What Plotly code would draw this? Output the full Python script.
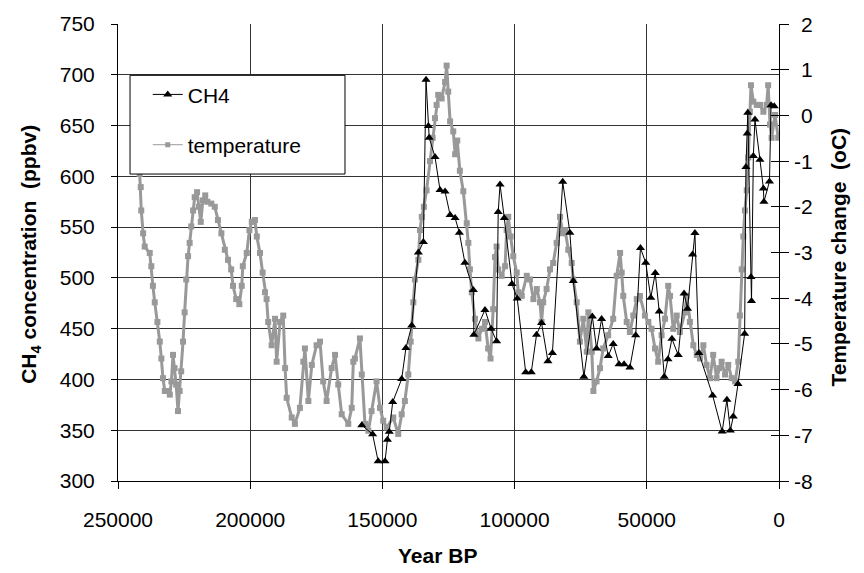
import plotly.graph_objects as go

# ---------------- data ----------------
ch4_year = [157800, 153700, 151600, 149000, 148100, 147400, 146100, 142700, 141100, 138900,
            136400, 134500, 133500, 132600, 132300, 130100, 128200, 126300, 124400, 122500,
            120900, 118800, 115600, 115400, 111200, 108900, 106800, 106200, 105500, 103900,
            101000, 99000, 95800, 93700, 91700, 89800, 87400, 85700, 81800, 79100,
            77800, 73800, 70600, 69000, 67100, 64600, 62700, 60500, 58600, 56400,
            54200, 52400, 50400, 48500, 46800, 45300, 43400, 42000, 40500, 38100,
            35900, 34600, 32700, 31800, 30300, 25100, 21500, 19700, 18400, 17300,
            15500, 13000, 12500, 12000, 11800, 10600, 10400, 9700, 9100, 7200,
            5900, 5700, 3600, 3000, 1800]
ch4_ppbv = [355, 346, 319.5, 319.5, 340.6, 348.6, 377.8, 400.5, 431, 453,
            525, 535.4, 695, 649.6, 638, 619, 586.5, 585, 562, 559,
            544.5, 515, 488, 444, 468.5, 450, 437.7, 565, 592, 559,
            494, 479.7, 407, 407, 444, 455.5, 418, 426, 594.7, 544.5,
            497, 402.7, 462, 430.4, 459.5, 423, 435, 415, 415, 411.8,
            443.5, 529.4, 515, 480.4, 504.7, 466.8, 402.7, 420, 440, 424,
            484.6, 469.7, 523, 544.2, 426, 384.3, 348.7, 380, 349.8, 363.4,
            395.6, 445, 609.2, 642.2, 662.6, 500.8, 477.2, 620, 656, 616.3,
            588, 575, 595, 670, 669]

temp_year = [242300, 241800, 241400, 241200, 240500, 239900, 238000, 237400, 236800, 236100,
             235100, 234200, 233600, 233000, 232300, 231100, 230400, 229800, 229200, 228600,
             228000, 227300, 226700, 226100, 225400, 224800, 224200, 223500, 222900, 222300,
             221600, 221000, 220100, 219400, 218700, 217900, 217000, 216200, 214700, 213400,
             212200, 210900, 209600, 208400, 207200, 206500, 205300, 204100, 203200, 202800,
             201300, 200300, 199400, 198200, 197500, 196300, 195300, 194400, 193800, 193200,
             191900, 190600, 190000, 188700, 187500, 186800, 186200, 184300, 183100, 181200,
             179900, 179300, 178000, 176700, 174900, 173600, 172400, 171100, 169200, 167900,
             166700, 165400, 162900, 161600, 161000, 160400, 158500, 157800, 156600, 155300,
             154100, 152200, 150900, 149700, 148400, 145900, 144000, 142700, 141500, 140200,
             139300, 138300, 137700, 136400, 135800, 135100, 134300, 133300, 132000, 131000,
             130100, 129500, 128900, 127600, 126300, 125700, 125100, 124400, 123200, 122500,
             121700, 120700, 119400, 118100, 117500, 116900, 116200, 115000, 113700, 112400,
             111200, 110000, 109100, 108100, 107400, 106800, 106200, 104900, 103600, 103000,
             102400, 101500, 100500, 99200, 98600, 97300, 95400, 94200, 92900, 91600,
             90400, 89800, 89200, 87900, 86600, 85400, 84100, 82800, 81800, 80900,
             79700, 78400, 77800, 76500, 75300, 74000, 72700, 72100, 70800, 70200,
             69000, 67700, 66500, 64600, 62700, 61400, 60100, 59500, 58900, 57600,
             56400, 55100, 53800, 52600, 50700, 49400, 48200, 46900, 45700, 44400,
             43100, 41900, 41200, 40000, 38700, 37500, 35600, 34900, 33700, 32400,
             31100, 29900, 28600, 27400, 26100, 24900, 23600, 22600, 21700, 20400,
             19200, 17900, 16600, 15400, 14800, 14100, 13500, 12900, 12200, 11600,
             11000, 10600, 9700, 8400, 7200, 5900, 4700, 4100, 3400, 2800,
             1500, 300]
temp_change = [-0.6, -1.28, -1.57, -2.08, -2.58, -2.87, -3.01, -3.30, -3.73, -4.09,
               -4.52, -4.95, -5.32, -5.75, -6.03, -6.03, -6.11, -5.82, -5.24, -5.53,
               -5.89, -6.47, -6.03, -5.60, -4.95, -4.31, -3.59, -3.08, -2.79, -2.43,
               -2.08, -1.79, -1.68, -2.00, -2.33, -1.86, -1.75, -1.89, -1.93, -2.00,
               -2.29, -2.58, -2.94, -3.16, -3.37, -3.73, -4.02, -4.13, -3.73, -3.30,
               -3.01, -2.51, -2.33, -2.29, -2.65, -3.01, -3.44, -3.87, -4.02, -4.52,
               -5.03, -4.45, -5.39, -4.52, -4.38, -5.53, -6.18, -6.61, -6.75, -6.40,
               -5.39, -5.10, -6.25, -5.46, -5.03, -4.95, -5.82, -6.25, -5.53, -5.24,
               -5.89, -6.54, -6.75, -6.40, -5.39, -5.32, -4.88, -5.67, -6.75, -6.90,
               -6.47, -5.82, -6.40, -6.68, -6.83, -6.61, -6.97, -6.54, -6.25, -5.67,
               -4.95, -4.09, -3.59, -3.16, -2.51, -2.22, -2.00, -1.64, -1.00, -0.49,
               -0.06, 0.23, 0.45, 0.37, 0.73, 1.09, 0.52, -0.13, -0.35, -0.85,
               -0.55, -1.21, -1.66, -2.36, -2.79, -3.37, -3.87, -4.45, -4.88, -4.67,
               -4.52, -5.10, -5.32, -4.24, -3.10, -2.87, -3.37, -3.51, -3.30, -2.51,
               -2.22, -2.65, -3.08, -3.44, -3.87, -3.95, -3.51, -3.59, -4.02, -3.80,
               -4.09, -4.52, -4.09, -3.80, -3.37, -3.23, -2.79, -2.22, -2.58, -2.51,
               -2.94, -3.23, -3.59, -4.09, -4.95, -4.45, -5.17, -4.31, -5.17, -6.03,
               -5.82, -5.53, -5.10, -4.81, -4.45, -3.51, -3.01, -3.44, -3.95, -4.52,
               -4.74, -4.38, -4.02, -3.95, -4.38, -4.52, -4.67, -5.10, -5.39, -4.81,
               -4.45, -3.73, -3.95, -4.67, -4.38, -4.74, -4.31, -3.95, -4.52, -5.03,
               -5.24, -5.32, -5.03, -5.46, -5.75, -5.24, -5.75, -5.53, -5.39, -5.67,
               -5.46, -5.75, -5.82, -5.39, -4.38, -3.37, -2.65, -2.08, -1.64, -0.92,
               0.08, 0.66, 0.30, 0.23, 0.23, 0.08, 0.23, 0.66, -0.20, -0.49,
               0.01, -0.49]

x_ticks = [250000, 200000, 150000, 100000, 50000, 0]
ch4_ticks = [300, 350, 400, 450, 500, 550, 600, 650, 700, 750]
temp_ticks = [-8, -7, -6, -5, -4, -3, -2, -1, 0, 1, 2]

assert len(ch4_year) == len(ch4_ppbv)
assert len(temp_year) == len(temp_change)

FONT = "Liberation Sans, Arial, sans-serif"
GRAY = "#999999"

fig = go.Figure()

# temperature on the base (right-hand) axis, drawn underneath
fig.add_trace(go.Scatter(
    x=temp_year, y=temp_change, name="temperature", mode="lines+markers",
    line=dict(color=GRAY, width=3),
    marker=dict(symbol="square", size=6, color=GRAY),
    yaxis="y", showlegend=False))

# CH4 on the overlaying (left-hand) axis, drawn on top
fig.add_trace(go.Scatter(
    x=ch4_year, y=ch4_ppbv, name="CH4", mode="lines+markers",
    line=dict(color="black", width=1),
    marker=dict(symbol="triangle-up", size=8, color="black"),
    yaxis="y2", legendgroup="a", legendrank=1))

# legend-only entry for temperature: thin line with a small square
fig.add_trace(go.Scatter(
    x=[None], y=[None], name="temperature", mode="lines+markers",
    line=dict(color=GRAY, width=1),
    marker=dict(symbol="square", size=5, color=GRAY),
    yaxis="y3", legendgroup="b", legendrank=2, hoverinfo="skip"))

fig.update_layout(
    width=864, height=573,
    margin=dict(l=118, r=85, t=18, b=92),
    paper_bgcolor="white", plot_bgcolor="white",
    font=dict(family=FONT, size=21, color="black"),
    showlegend=True,
    legend=dict(x=0.045, y=0.890, xanchor="left", yanchor="top",
                bgcolor="rgba(0,0,0,0)", borderwidth=0,
                tracegroupgap=20, font=dict(family=FONT, size=21, color="black")),
    xaxis=dict(range=[250000, 0], tickvals=x_ticks, tickformat="d",
               showgrid=True, gridcolor="#333333", gridwidth=1,
               showline=True, linecolor="black", linewidth=1,
               ticks="outside", ticklen=7, tickcolor="black",
               ticklabelstandoff=13, zeroline=False,
               tickfont=dict(size=21)),
    yaxis=dict(range=[-8, 2], tickvals=temp_ticks, side="right",
               showgrid=False, zeroline=False, showticklabels=False,
               showline=True, linecolor="black", linewidth=1,
               ticks="outside", ticklen=9, tickcolor="black"),
    yaxis2=dict(range=[300, 750], tickvals=ch4_ticks, side="left", overlaying="y",
                showgrid=True, gridcolor="#333333", gridwidth=1, zeroline=False,
                showline=True, linecolor="black", linewidth=1,
                ticks="outside", ticklen=6, tickcolor="black",
                ticklabelstandoff=12, tickfont=dict(size=21)),
    yaxis3=dict(range=[-8, 2], tickvals=temp_ticks, side="right", overlaying="y",
                showgrid=False, zeroline=False, showticklabels=False, showline=False,
                ticks="inside", ticklen=8, tickcolor="black"),
)

# legend frame (white, hides the data behind it as in the original)
fig.add_shape(type="rect", xref="paper", yref="paper",
              x0=0.0182, x1=0.3434, y0=0.6717, y1=0.8877,
              line=dict(color="black", width=1), fillcolor="white", layer="above")

# right-hand tick labels, right-aligned as in the original
for v in temp_ticks:
    fig.add_annotation(x=1.0545, xref="paper", y=v, yref="y", text=str(v),
                       showarrow=False, xanchor="right", yanchor="middle",
                       font=dict(family=FONT, size=21, color="black"))

# axis titles
fig.add_annotation(x=-0.133, xref="paper", y=0.495, yref="paper",
                   text="<b>CH<sub>4</sub> concentration  (ppbv)</b>", textangle=-90,
                   showarrow=False, xanchor="center", yanchor="middle",
                   font=dict(family=FONT, size=21, color="black"))
fig.add_annotation(x=1.09, xref="paper", y=0.49, yref="paper",
                   text="<b>Temperature change  (oC)</b>", textangle=-90,
                   showarrow=False, xanchor="center", yanchor="middle",
                   font=dict(family=FONT, size=21, color="black"))
fig.add_annotation(x=0.483, xref="paper", y=-0.164, yref="paper",
                   text="<b>Year BP</b>", showarrow=False,
                   xanchor="center", yanchor="middle",
                   font=dict(family=FONT, size=21, color="black"))

fig.write_html("out.html")
